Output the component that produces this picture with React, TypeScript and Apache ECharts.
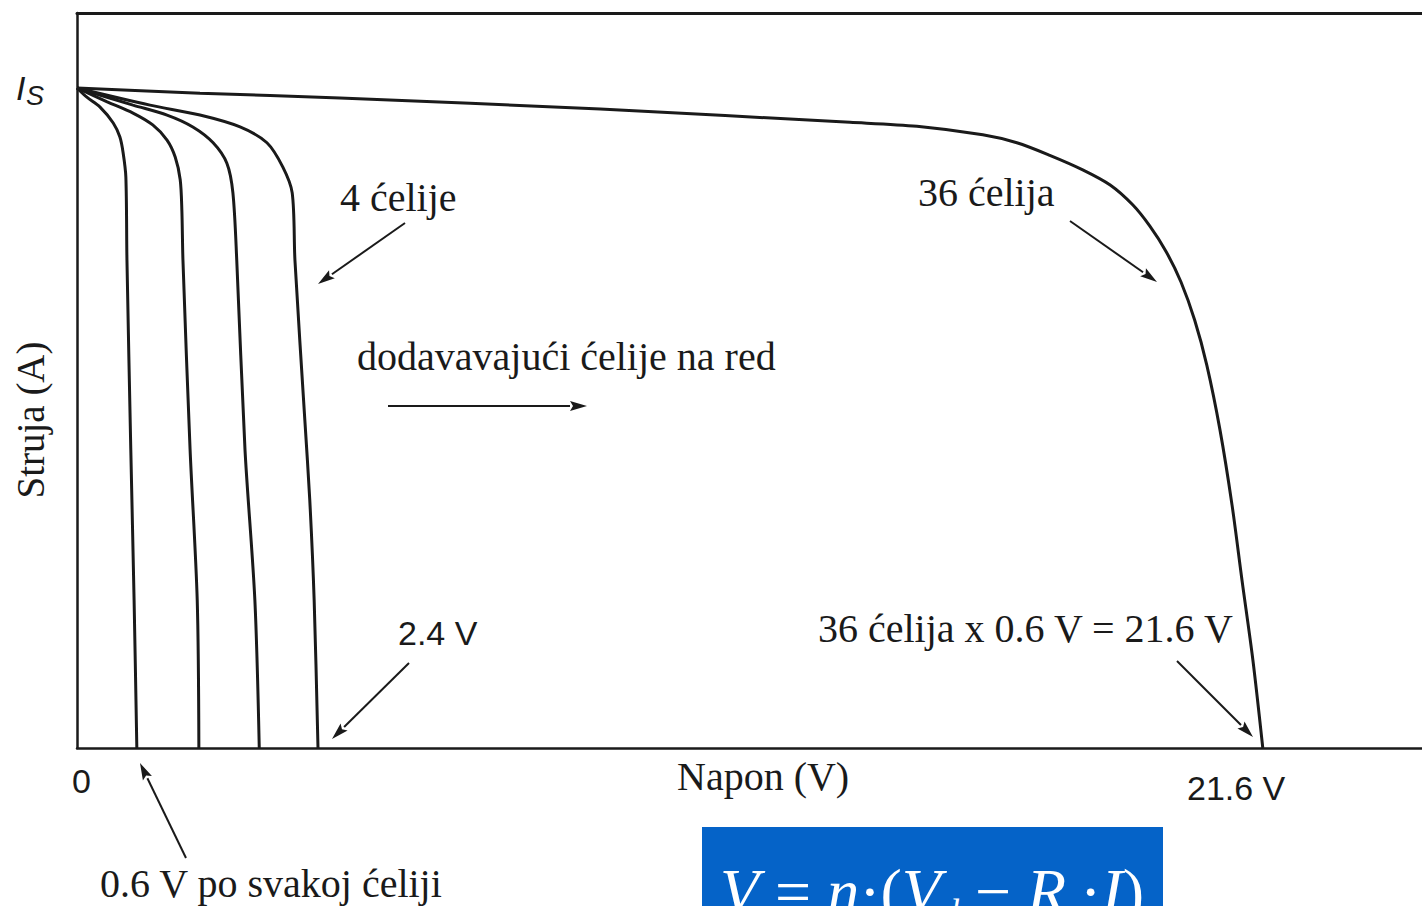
import React, { useEffect, useRef } from "react";
import * as echarts from "echarts";

// Voltage (schematic units) and current (fraction of Is) for each string length
const v1 = [0, 0.18, 0.42, 0.66, 0.78, 0.84, 0.89, 0.91, 0.98, 1.04, 1.09];
const i1 = [1, 0.986, 0.971, 0.947, 0.926, 0.902, 0.865, 0.739, 0.452, 0.224, 0];

const v2 = [0, 0.55, 1.02, 1.38, 1.64, 1.79, 1.88, 1.91, 1.93, 2.06, 2.19, 2.22];
const i2 = [1, 0.979, 0.962, 0.944, 0.921, 0.895, 0.861, 0.815, 0.739, 0.452, 0.224, 0];

const v3 = [0, 1.02, 1.64, 2.11, 2.48, 2.73, 2.84, 2.91, 3.06, 3.24, 3.32];
const i3 = [1, 0.974, 0.959, 0.941, 0.917, 0.886, 0.841, 0.739, 0.452, 0.224, 0];

const v4 = [0, 1.33, 2.24, 2.97, 3.46, 3.75, 3.92, 3.97, 4.15, 4.24, 4.32, 4.39];
const i4 = [1, 0.974, 0.959, 0.941, 0.917, 0.88, 0.841, 0.739, 0.497, 0.376, 0.224, 0];

const v36 = [
  0, 2.24, 4.79, 9.53, 14.08, 15.3, 16.5, 17.12, 17.72, 18.32, 18.82, 19.23, 19.54,
  19.84, 20.11, 20.36, 20.58, 20.82, 21.04, 21.22, 21.42, 21.6,
];
const i36 = [
  1, 0.992, 0.985, 0.968, 0.948, 0.942, 0.929, 0.917, 0.898, 0.876, 0.853, 0.823, 0.791,
  0.752, 0.706, 0.648, 0.58, 0.482, 0.368, 0.255, 0.133, 0,
];

const curves = [
  { name: "1 ćelija", v: v1, i: i1 },
  { name: "2 ćelije", v: v2, i: i2 },
  { name: "3 ćelije", v: v3, i: i3 },
  { name: "4 ćelije", v: v4, i: i4 },
  { name: "36 ćelija", v: v36, i: i36 },
];

const X_MAX = 24.5;
const Y_MAX = 1.1136;

const SERIF = '"Liberation Serif", "Times New Roman", serif';
const SANS = '"Liberation Sans", Arial, sans-serif';
const INK = "#1a1a1a";

function arrow(x1: number, y1: number, x2: number, y2: number) {
  const a = Math.atan2(y2 - y1, x2 - x1);
  const len = 17;
  const half = 5;
  const bx = x2 - len * Math.cos(a);
  const by = y2 - len * Math.sin(a);
  const px = -Math.sin(a) * half;
  const py = Math.cos(a) * half;
  return {
    type: "group",
    children: [
      {
        type: "line",
        shape: { x1, y1, x2: bx, y2: by },
        style: { stroke: INK, lineWidth: 2 },
      },
      {
        type: "polygon",
        shape: {
          points: [
            [x2, y2],
            [bx + px, by + py],
            [bx + 3 * Math.cos(a), by + 3 * Math.sin(a)],
            [bx - px, by - py],
          ],
        },
        style: { fill: INK },
      },
    ],
  };
}

function label(text: string, x: number, y: number, size: number, family: string, extra: any = {}) {
  return {
    type: "text",
    x,
    y,
    ...extra,
    style: {
      text,
      fill: INK,
      fontSize: size,
      fontFamily: family,
      align: "left",
      verticalAlign: "middle",
      ...(extra.style || {}),
    },
  };
}

export default function App() {
  const ref = useRef<HTMLDivElement>(null);

  useEffect(() => {
    if (!ref.current) return;
    const chart = echarts.init(ref.current, undefined, { renderer: "svg" });

    const axisLine = { show: true, lineStyle: { color: INK, width: 2.5 } };

    chart.setOption({
      animation: false,
      backgroundColor: "#ffffff",
      grid: { left: 77, top: 13, right: 0, bottom: 158 },
      xAxis: [
        {
          type: "value",
          min: 0,
          max: X_MAX,
          axisLine: { ...axisLine, onZero: false },
          axisTick: { show: false },
          axisLabel: { show: false },
          splitLine: { show: false },
        },
        {
          type: "value",
          position: "top",
          min: 0,
          max: X_MAX,
          axisLine: { ...axisLine, onZero: false, lineStyle: { color: INK, width: 3 } },
          axisTick: { show: false },
          axisLabel: { show: false },
          splitLine: { show: false },
        },
      ],
      yAxis: {
        type: "value",
        min: 0,
        max: Y_MAX,
        axisLine: { ...axisLine, onZero: false },
        axisTick: { show: false },
        axisLabel: { show: false },
        splitLine: { show: false },
      },
      series: curves.map((c) => ({
        name: c.name,
        type: "line",
        data: c.v.map((v, k) => [v, c.i[k]]),
        showSymbol: false,
        smooth: 0.3,
        lineStyle: { color: INK, width: 3 },
        silent: true,
      })),
      graphic: [
        // current axis marker
        label("I", 16, 88, 34, SANS, { style: { fontStyle: "italic" } }),
        label("S", 26, 96, 27, SANS, { style: { fontStyle: "italic" } }),
        label("Struja (A)", 30, 420, 39, SERIF, {
          rotation: Math.PI / 2,
          style: { align: "center" },
        }),
        label("4 ćelije", 340, 197, 40, SERIF),
        label("36 ćelija", 918, 192, 40, SERIF),
        label("dodavavajući ćelije na red", 357, 356, 40, SERIF),
        label("2.4 V", 398, 633, 34, SANS),
        label("36 ćelija x 0.6 V = 21.6 V", 818, 628, 40, SERIF),
        label("0", 72, 781, 34, SANS),
        label("Napon (V)", 677, 776, 40, SERIF),
        label("21.6 V", 1187, 788, 34, SANS),
        label("0.6 V po svakoj ćeliji", 100, 883, 40, SERIF),
        arrow(405, 223, 318, 284),
        arrow(1070, 221, 1157, 282),
        arrow(388, 406, 587, 406),
        arrow(409, 663, 332, 739),
        arrow(1177, 661, 1253, 737),
        arrow(186, 858, 140, 763),
        // formula panel
        {
          type: "rect",
          shape: { x: 702, y: 827, width: 461, height: 100 },
          style: { fill: "#0563c8" },
        },
        {
          type: "text",
          x: 720,
          y: 891,
          style: {
            text: "{i|V} = {i|n}·({i|V}{s|d} − {i|R}{s|s}·{i|I})",
            fill: "#ffffff",
            fontSize: 64,
            fontFamily: SERIF,
            verticalAlign: "middle",
            rich: {
              i: { fontStyle: "italic", fontSize: 64, fontFamily: SERIF, fill: "#ffffff" },
              s: { fontStyle: "italic", fontSize: 36, fontFamily: SERIF, fill: "#ffffff", padding: [42, 0, 0, 0] },
            },
          },
        },
      ],
    });

    return () => chart.dispose();
  }, []);

  return (
    <div
      ref={ref}
      style={{ position: "absolute", left: 0, top: 0, width: 1422, height: 906, background: "#fff" }}
    />
  );
}
